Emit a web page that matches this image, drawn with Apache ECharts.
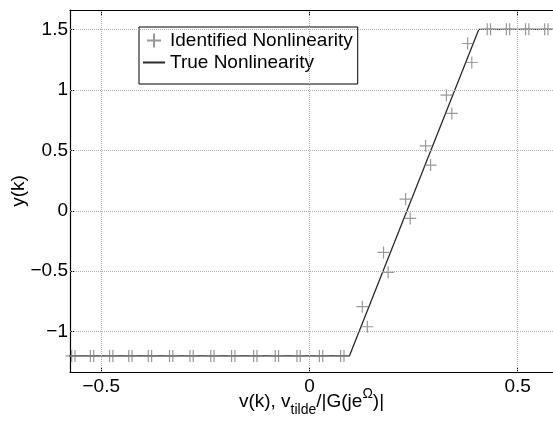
<!DOCTYPE html>
<html>
<head>
<meta charset="utf-8">
<script src="https://cdn.jsdelivr.net/npm/echarts@6/dist/echarts.min.js"></script>
<style>html,body{margin:0;padding:0;background:#fff;}#c{width:553px;height:425px;}</style>
</head>
<body>
<div id="c"></div>
<script>
// ---- data ----
const xTicks = [-0.5, 0, 0.5];
const yTicks = [-1, -0.5, 0, 0.5, 1, 1.5];

// True nonlinearity (saturation) corner points
const trueX = [-0.6, 0.096, 0.407, 0.6];
const trueY = [-1.2, -1.2, 1.5, 1.5];

// Identified nonlinearity points
const identX = [
  -0.571, -0.563, -0.526, -0.518, -0.480, -0.472, -0.434, -0.426, -0.387, -0.379,
  -0.336, -0.328, -0.287, -0.279, -0.237, -0.229, -0.187, -0.179, -0.134, -0.126,
  -0.082, -0.074, -0.030, -0.022, 0.024, 0.032, 0.075, 0.083,
  0.127, 0.139, 0.178, 0.189, 0.231, 0.242, 0.279, 0.291, 0.329, 0.342, 0.380, 0.390,
  0.427, 0.435, 0.473, 0.481, 0.519, 0.527, 0.565, 0.573
];
const identY = [
  -1.2, -1.2, -1.2, -1.2, -1.2, -1.2, -1.2, -1.2, -1.2, -1.2,
  -1.2, -1.2, -1.2, -1.2, -1.2, -1.2, -1.2, -1.2, -1.2, -1.2,
  -1.2, -1.2, -1.2, -1.2, -1.2, -1.2, -1.2, -1.2,
  -0.793, -0.959, -0.344, -0.509, 0.097, -0.063, 0.537, 0.378, 0.956, 0.805, 1.383, 1.226,
  1.5, 1.5, 1.5, 1.5, 1.5, 1.5, 1.5, 1.5
];

const xMin = -0.575, xMax = 0.585;
const yMin = -1.333, yMax = 1.66;

const FONT = 'Liberation Sans, Arial, Helvetica, sans-serif';
const fmt = v => (v < 0 ? '\u2212' + Math.abs(v) : String(v));

const chart = echarts.init(document.getElementById('c'), null, {renderer: 'canvas'});

const axisLineStyle = {color: '#000', width: 1.2};
const gridColor = '#b0b0b0';

chart.setOption({
  backgroundColor: '#fff',
  animation: false,
  grid: {left: 70, top: 10, width: 486, height: 362, containLabel: false},
  legend: {
    left: 139, top: 27,
    orient: 'vertical',
    backgroundColor: '#fff',
    borderColor: '#000', borderWidth: 1,
    padding: [4, 5, 12, 3],
    itemWidth: 22, itemHeight: 14, itemGap: 3,
    textStyle: {fontFamily: FONT, fontSize: 19, color: '#000', lineHeight: 19},
    data: [
      {name: 'Identified Nonlinearity'},
      {name: 'True Nonlinearity', itemStyle: {color: 'rgba(0,0,0,0)', borderWidth: 0, opacity: 0}}
    ],
    selectedMode: false
  },
  xAxis: [{
    type: 'value', min: xMin, max: xMax, position: 'bottom',
    axisLine: {show: true, onZero: false, lineStyle: axisLineStyle},
    axisTick: {show: true, inside: true, length: 5, customValues: xTicks, lineStyle: {color: '#000'}},
    axisLabel: {customValues: xTicks, formatter: fmt, fontFamily: FONT, fontSize: 19, color: '#000', margin: 5},
    splitLine: {show: false},
    name: '{m|v(k), v}{sub|tilde}{m|/|G(je}{sup|\u03A9}{m|)|}',
    nameLocation: 'middle', nameGap: 15, nameMoveOverlap: false,
    nameTextStyle: {
      fontFamily: FONT, color: '#000',
      rich: {
        m: {fontFamily: FONT, fontSize: 19, lineHeight: 30, verticalAlign: 'middle', color: '#000'},
        sub: {fontFamily: FONT, fontSize: 14, verticalAlign: 'bottom', color: '#000'},
        sup: {fontFamily: FONT, fontSize: 14, verticalAlign: 'top', color: '#000'}
      }
    }
  }, {
    type: 'value', min: xMin, max: xMax, position: 'top',
    axisLine: {show: true, onZero: false, lineStyle: axisLineStyle},
    axisTick: {show: true, inside: true, length: 5, customValues: xTicks, lineStyle: {color: '#000'}},
    axisLabel: {show: false},
    splitLine: {show: false}
  }],
  yAxis: [{
    type: 'value', min: yMin, max: yMax, position: 'left',
    axisLine: {show: true, onZero: false, lineStyle: axisLineStyle},
    axisTick: {show: true, inside: true, length: 5, customValues: yTicks, lineStyle: {color: '#000'}},
    axisLabel: {customValues: yTicks, formatter: fmt, fontFamily: FONT, fontSize: 19, color: '#000', margin: 2},
    splitLine: {show: false},
    name: 'y(k)', nameLocation: 'middle', nameGap: 42, nameRotate: 90, nameMoveOverlap: false,
    nameTextStyle: {fontFamily: FONT, fontSize: 19, color: '#000'}
  }],
  series: [
    {
      name: 'grid', type: 'scatter', data: [], z: 1, silent: true,
      markLine: {
        silent: true, symbol: ['none', 'none'], label: {show: false},
        lineStyle: {color: gridColor, type: 'dotted', width: 1},
        emphasis: {disabled: true},
        data: xTicks.map(v => ({xAxis: v})).concat(yTicks.map(v => ({yAxis: v})))
      }
    },
    {
      name: 'True Nonlinearity', type: 'line', z: 3,
      data: trueX.map((x, i) => [x, trueY[i]]),
      symbol: 'none', showSymbol: false,
      lineStyle: {color: '#2a2a2a', width: 1.3},
      itemStyle: {color: '#2a2a2a'}
    },
    {
      name: 'Identified Nonlinearity', type: 'scatter', z: 4,
      data: identX.map((x, i) => [x, identY[i]]),
      symbol: 'path://M-6,0H6M0,-6V6M0,0', symbolSize: 12,
      itemStyle: {color: 'none', borderColor: '#808080', borderWidth: 1.2}
    }
  ]
});
</script>
</body>
</html>
